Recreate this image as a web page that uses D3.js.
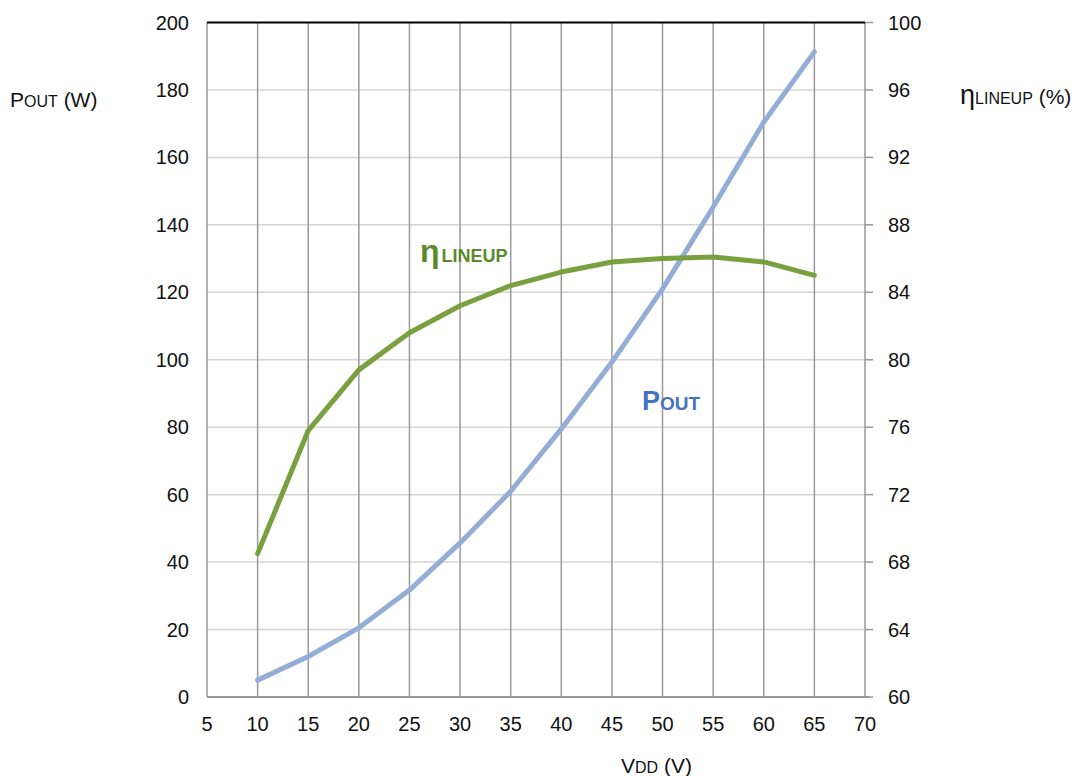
<!DOCTYPE html>
<html><head><meta charset="utf-8">
<script src="https://cdn.jsdelivr.net/npm/d3@7"></script>
<style>
body{margin:0;background:#fff;}
text{font-family:"Liberation Sans",Arial,sans-serif;}
</style></head>
<body>
<svg id="c" width="1075" height="776"></svg>
<script>
const vdd = [10,15,20,25,30,35,40,45,50,55,60,65];
const pout = [5,12,20.5,31.7,45.7,61,79.5,99.3,121,145.3,170.5,191.3];
const eta = [68.5,75.8,79.4,81.6,83.2,84.4,85.2,85.8,86.0,86.1,85.8,85.0];
const xTicks = [5,10,15,20,25,30,35,40,45,50,55,60,65,70];
const yLeftTicks = [0,20,40,60,80,100,120,140,160,180,200];
const yRightTicks = [60,64,68,72,76,80,84,88,92,96,100];

const svg = d3.select("#c");
const L=207, R=865, T=22.5, B=697;
const x = d3.scaleLinear().domain([5,70]).range([L,R]);
const yL = d3.scaleLinear().domain([0,200]).range([B,T]);
const yR = d3.scaleLinear().domain([60,100]).range([B,T]);

svg.append("g").selectAll("line").data(yLeftTicks.slice(1,-1)).join("line")
  .attr("x1",L).attr("x2",R).attr("y1",d=>yL(d)).attr("y2",d=>yL(d))
  .attr("stroke","#d4d4d4").attr("stroke-width",1.5);
svg.append("g").selectAll("line").data(xTicks).join("line")
  .attr("x1",d=>x(d)).attr("x2",d=>x(d)).attr("y1",T).attr("y2",B)
  .attr("stroke","#999").attr("stroke-width",1.5);
svg.append("line").attr("x1",L).attr("x2",R).attr("y1",T).attr("y2",T).attr("stroke","#000").attr("stroke-width",2);
svg.append("line").attr("x1",L).attr("x2",R+4).attr("y1",B).attr("y2",B).attr("stroke","#999").attr("stroke-width",2);
svg.append("g").selectAll("line").data(yRightTicks).join("line")
  .attr("x1",R).attr("x2",R+8).attr("y1",d=>yR(d)).attr("y2",d=>yR(d))
  .attr("stroke","#999").attr("stroke-width",1.5);

svg.append("g").selectAll("text").data(yLeftTicks).join("text")
  .attr("x",189).attr("y",d=>yL(d)+7).attr("text-anchor","end")
  .attr("font-size",20).attr("fill","#111").text(d=>d);
svg.append("g").selectAll("text").data(yRightTicks).join("text")
  .attr("x",888).attr("y",d=>yR(d)+7).attr("text-anchor","start")
  .attr("font-size",20).attr("fill","#111").text(d=>d);
svg.append("g").selectAll("text").data(xTicks).join("text")
  .attr("x",d=>x(d)).attr("y",731).attr("text-anchor","middle")
  .attr("font-size",20).attr("fill","#111").text(d=>d);

const line = (ys, yscale) => d3.line().x((d,i)=>x(vdd[i])).y(d=>yscale(d)).curve(d3.curveLinear)(ys);
svg.append("path").attr("d",line(pout,yL)).attr("fill","none").attr("stroke","#93add6").attr("stroke-width",5).attr("stroke-linecap","round").attr("stroke-linejoin","round");
svg.append("path").attr("d",line(eta,yR)).attr("fill","none").attr("stroke","#78a03e").attr("stroke-width",5).attr("stroke-linecap","round").attr("stroke-linejoin","round");

const t1 = svg.append("text").attr("x",420).attr("y",262).attr("fill","#5b8a2e").attr("font-weight","bold");
t1.append("tspan").attr("font-size",32).text("η");
t1.append("tspan").attr("font-size",18).attr("dx",2).text("LINEUP");
const t2 = svg.append("text").attr("x",642).attr("y",410).attr("fill","#4472c4").attr("font-weight","bold");
t2.append("tspan").attr("font-size",27).text("P");
t2.append("tspan").attr("font-size",19).text("OUT");

const a1 = svg.append("text").attr("x",10).attr("y",107).attr("fill","#111");
a1.append("tspan").attr("font-size",21).text("P");
a1.append("tspan").attr("font-size",16).text("OUT");
a1.append("tspan").attr("font-size",21).text(" (W)");
const a2 = svg.append("text").attr("x",960).attr("y",104).attr("fill","#111");
a2.append("tspan").attr("font-size",27).text("η");
a2.append("tspan").attr("font-size",16).text("LINEUP");
a2.append("tspan").attr("font-size",21).text(" (%)");
const a3 = svg.append("text").attr("x",621).attr("y",773).attr("fill","#111");
a3.append("tspan").attr("font-size",21).text("V");
a3.append("tspan").attr("font-size",16).text("DD");
a3.append("tspan").attr("font-size",21).text(" (V)");
</script>
</body></html>
